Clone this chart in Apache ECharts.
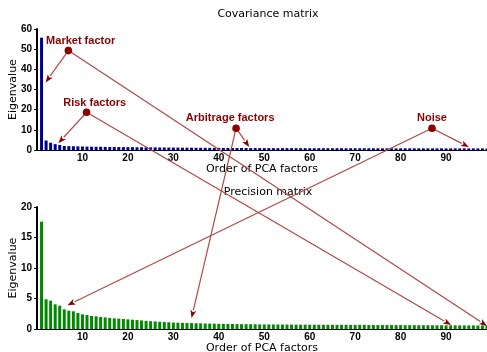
<!DOCTYPE html>
<html>
<head>
<meta charset="utf-8">
<script src="https://cdn.jsdelivr.net/npm/echarts@6/dist/echarts.min.js"></script>
<style>
  html, body { margin: 0; padding: 0; background: #fff; }
  #chart { width: 487px; height: 352px; }
</style>
</head>
<body>
<div id="chart"></div>
<script>
// Eigenvalue spectra of the covariance and precision matrices (PCA factor order 1..99)
const factorOrder = [];
for (let i = 1; i <= 99; i++) factorOrder.push(i);

const covarianceEigen = [
  55.7, 4.7, 3.6, 2.9, 2.5, 2.0, 1.9, 1.85, 1.8, 1.75,
  1.7, 1.65, 1.6, 1.6, 1.55, 1.5, 1.5, 1.45, 1.45, 1.4,
  1.4, 1.35, 1.35, 1.3, 1.3, 1.3, 1.25, 1.25, 1.2, 1.2,
  1.2, 1.15, 1.15, 1.15, 1.1, 1.1, 1.1, 1.05, 1.05, 1.05,
  1.0, 1.0, 1.0, 1.0, 0.98, 0.97, 0.96, 0.95, 0.95, 0.94,
  0.93, 0.93, 0.92, 0.92, 0.91, 0.91, 0.9, 0.9, 0.9, 0.89,
  0.89, 0.88, 0.88, 0.88, 0.87, 0.87, 0.87, 0.86, 0.86, 0.86,
  0.85, 0.85, 0.85, 0.84, 0.84, 0.84, 0.84, 0.83, 0.83, 0.83,
  0.83, 0.82, 0.82, 0.82, 0.82, 0.81, 0.81, 0.81, 0.81, 0.8,
  0.8, 0.8, 0.8, 0.8, 0.79, 0.79, 0.79, 0.79, 0.78
];

const precisionEigen = [
  17.6, 4.87, 4.64, 4.05, 3.82, 3.22, 3.0, 2.9, 2.62, 2.4,
  2.3, 2.13, 2.08, 1.97, 1.9, 1.8, 1.75, 1.7, 1.64, 1.58,
  1.52, 1.46, 1.4, 1.34, 1.28, 1.23, 1.18, 1.14, 1.1, 1.05,
  1.03, 1.01, 0.99, 0.97, 0.95, 0.93, 0.91, 0.89, 0.87, 0.85,
  0.84, 0.83, 0.82, 0.81, 0.8, 0.79, 0.78, 0.77, 0.76, 0.75,
  0.75, 0.74, 0.74, 0.73, 0.73, 0.72, 0.72, 0.71, 0.71, 0.7,
  0.7, 0.7, 0.69, 0.69, 0.69, 0.68, 0.68, 0.68, 0.67, 0.67,
  0.67, 0.66, 0.66, 0.66, 0.65, 0.65, 0.65, 0.64, 0.64, 0.64,
  0.63, 0.63, 0.63, 0.62, 0.62, 0.62, 0.61, 0.61, 0.61, 0.6,
  0.6, 0.6, 0.6, 0.59, 0.59, 0.59, 0.58, 0.58, 0.58
];

const xTickLabels = [10, 20, 30, 40, 50, 60, 70, 80, 90];
const yTicksCovariance = [0, 10, 20, 30, 40, 50, 60];
const yTicksPrecision = [0, 5, 10, 15, 20];

// Annotated regions of the spectrum: label, marker point (covariance panel),
// and arrow targets given in data units of either panel (0 = covariance, 1 = precision)
const annotationLabels = ['Market factor', 'Risk factors', 'Arbitrage factors', 'Noise'];
const annotationLabelPos = [[9.6, 54.2], [12.7, 23.2], [42.5, 15.8], [86.9, 15.8]];
const annotationDots = [[6.9, 49.3], [10.9, 18.7], [43.8, 10.8], [86.9, 10.8]];
const annotationTargets = [
  [[1.9, 33.5, 0], [99.0, 0.5, 1]],
  [[4.7, 3.4, 0], [91.1, 0.65, 1]],
  [[46.7, 1.5, 0], [34.0, 1.8, 1]],
  [[95.0, 1.5, 0], [6.7, 3.9, 1]]
];

const TEXT_FONT = 'DejaVu Sans';
const TICK_FONT = 'Liberation Sans';
const DARK_RED = '#8b0000';
const LINE_RED = '#b04848';

function pairs(values) {
  return values.map((v, i) => [factorOrder[i], v]);
}

function xAxisFor(gridIndex) {
  return {
    type: 'value', gridIndex: gridIndex,
    min: 0, max: 99, interval: 10,
    name: 'Order of PCA factors', nameLocation: 'middle', nameGap: 14,
    nameMoveOverlap: false,
    nameTextStyle: { fontFamily: TEXT_FONT, fontSize: 11, color: '#000' },
    axisLine: { show: true, onZero: false, lineStyle: { color: '#000', width: 1 } },
    axisTick: { show: false },
    splitLine: { show: false },
    axisLabel: {
      margin: 3, fontFamily: TICK_FONT, fontWeight: 'bold', fontSize: 10, color: '#000',
      formatter: v => (xTickLabels.indexOf(v) >= 0 ? String(v) : '')
    }
  };
}

function yAxisFor(gridIndex, ticks) {
  return {
    type: 'value', gridIndex: gridIndex,
    min: ticks[0], max: ticks[ticks.length - 1], interval: ticks[1] - ticks[0],
    name: 'Eigenvalue', nameLocation: 'middle', nameGap: 18, nameRotate: 90,
    nameMoveOverlap: false,
    nameTextStyle: { fontFamily: TEXT_FONT, fontSize: 11, color: '#000' },
    axisLine: { show: true, lineStyle: { color: '#000', width: 2 } },
    axisTick: { show: true, length: 3, lineStyle: { color: '#000', width: 1 } },
    splitLine: { show: false },
    axisLabel: { margin: 5, fontFamily: TICK_FONT, fontWeight: 'bold', fontSize: 10, color: '#000' }
  };
}

const chart = echarts.init(document.getElementById('chart'), null, { renderer: 'canvas' });

chart.setOption({
  animation: false,
  backgroundColor: '#fff',
  title: [
    { text: 'Covariance matrix', left: 263, top: 4, textAlign: 'center',
      textStyle: { fontFamily: TEXT_FONT, fontSize: 11, fontWeight: 'normal', color: '#000' } },
    { text: 'Precision matrix', left: 263, top: 182, textAlign: 'center',
      textStyle: { fontFamily: TEXT_FONT, fontSize: 11, fontWeight: 'normal', color: '#000' } }
  ],
  grid: [
    { left: 37, right: 0, top: 29, height: 121, outerBoundsMode: 'none', containLabel: false },
    { left: 37, right: 0, top: 207, height: 122, outerBoundsMode: 'none', containLabel: false }
  ],
  xAxis: [xAxisFor(0), xAxisFor(1)],
  yAxis: [yAxisFor(0, yTicksCovariance), yAxisFor(1, yTicksPrecision)],
  series: [
    { type: 'bar', name: 'Covariance matrix', xAxisIndex: 0, yAxisIndex: 0,
      barWidth: 3, itemStyle: { color: '#00008f' }, data: pairs(covarianceEigen) },
    { type: 'bar', name: 'Precision matrix', xAxisIndex: 1, yAxisIndex: 1,
      barWidth: 3, itemStyle: { color: '#008800' }, data: pairs(precisionEigen) }
  ]
});

// Arrows and labels drawn on top, positioned through the panels' own scales
function toPx(x, y, g) {
  return chart.convertToPixel({ gridIndex: g }, [x, y]);
}

function arrowElements(from, to) {
  const dx = to[0] - from[0], dy = to[1] - from[1];
  const len = Math.sqrt(dx * dx + dy * dy);
  const ux = dx / len, uy = dy / len;
  const headLen = 8, headHalf = 3;
  const bx = to[0] - ux * headLen, by = to[1] - uy * headLen;
  return [
    { type: 'line', z: 100, silent: true,
      shape: { x1: from[0], y1: from[1], x2: bx, y2: by },
      style: { stroke: LINE_RED, lineWidth: 1.2 } },
    { type: 'polygon', z: 101, silent: true,
      shape: { points: [
        [to[0], to[1]],
        [bx - uy * headHalf, by + ux * headHalf],
        [bx + ux * 2, by + uy * 2],
        [bx + uy * headHalf, by - ux * headHalf]
      ] },
      style: { fill: DARK_RED } }
  ];
}

const graphics = [];
annotationLabels.forEach((label, i) => {
  const dot = toPx(annotationDots[i][0], annotationDots[i][1], 0);
  const lp = toPx(annotationLabelPos[i][0], annotationLabelPos[i][1], 0);
  annotationTargets[i].forEach(t => {
    arrowElements(dot, toPx(t[0], t[1], t[2])).forEach(el => graphics.push(el));
  });
  graphics.push({ type: 'circle', z: 102, silent: true,
    shape: { cx: dot[0], cy: dot[1], r: 3.8 }, style: { fill: DARK_RED } });
  graphics.push({ type: 'text', z: 103, silent: true, x: lp[0], y: lp[1],
    style: { text: label, fill: DARK_RED, align: 'center', verticalAlign: 'middle',
      font: 'bold 11px "Liberation Sans"' } });
});

chart.setOption({ graphic: graphics });
</script>
</body>
</html>
